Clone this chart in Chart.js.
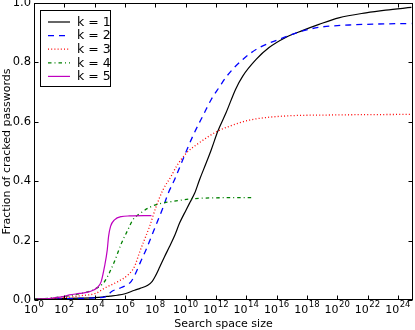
<!DOCTYPE html>
<html><head><meta charset="utf-8">
<script src="https://cdn.jsdelivr.net/npm/chart.js@4"></script>
<style>html,body{margin:0;padding:0;background:#fff;}canvas{display:block;}</style>
</head><body>
<canvas id="c" width="415" height="330"></canvas>
<script>
const seriesLabels = ['k = 1', 'k = 2', 'k = 3', 'k = 4', 'k = 5'];

const k1X = [1e0, 1e1, 1e2, 1e3, 1e4, 3.2e4, 1e5, 3.2e5, 1e6, 4.3e6, 1e7, 3.2e7, 6.3e7, 1e8, 2e8, 4e8, 8.7e8, 2e9, 4e9, 1.1e10, 2e10, 4e10, 8.3e10, 2.3e11, 5e11, 1.35e12, 4.8e12, 2e13, 5.9e13, 4.5e14, 3.2e15, 4e16, 5e17, 6.3e18, 1.26e20, 7.9e21, 1.58e23, 7.9e24];
const k1Y = [0.003, 0.004, 0.005, 0.006, 0.008, 0.010, 0.013, 0.016, 0.021, 0.033, 0.039, 0.05, 0.063, 0.08, 0.112, 0.145, 0.18, 0.22, 0.259, 0.304, 0.33, 0.36, 0.405, 0.462, 0.507, 0.569, 0.632, 0.71, 0.754, 0.81, 0.85, 0.884, 0.907, 0.928, 0.95, 0.967, 0.976, 0.985];

const k2X = [1e0, 1e1, 1e2, 1e3, 1e4, 5.9e4, 1.26e5, 5.75e5, 2.6e6, 5.75e6, 1e7, 2.5e7, 8.9e7, 3.16e8, 7.2e8, 1.86e9, 6.6e9, 3e10, 8.3e10, 1.38e11, 5e11, 1.74e12, 4.9e12, 5.9e13, 7.4e14, 1.58e16, 3.16e17, 6.3e18, 6.3e20, 3.2e22, 7.9e24];
const k2Y = [0.002, 0.003, 0.004, 0.005, 0.007, 0.012, 0.028, 0.042, 0.063, 0.096, 0.125, 0.17, 0.24, 0.31, 0.36, 0.405, 0.473, 0.552, 0.598, 0.62, 0.676, 0.718, 0.752, 0.81, 0.85, 0.878, 0.903, 0.918, 0.926, 0.929, 0.931];

const k3X = [1e0, 1e1, 1e2, 1e3, 1.26e4, 4.5e4, 3.4e5, 1.55e6, 4.3e6, 9.1e6, 4.2e7, 1.15e8, 3.16e8, 1.15e9, 2.5e9, 1.15e10, 8.3e10, 1.35e12, 7.9e12, 1.74e14, 2.5e16, 5e19, 7.9e24];
const k3Y = [0.003, 0.005, 0.008, 0.014, 0.023, 0.04, 0.062, 0.084, 0.113, 0.16, 0.248, 0.315, 0.37, 0.418, 0.45, 0.495, 0.53, 0.569, 0.585, 0.606, 0.619, 0.623, 0.625];

const k4X = [1e0, 1e1, 1e2, 1.58e3, 1.26e4, 4.5e4, 2.04e5, 5.75e5, 1.55e6, 3.3e6, 9.1e6, 4.2e7, 1.9e8, 1.45e9, 3e10, 1e12, 2.14e14];
const k4Y = [0.003, 0.006, 0.012, 0.023, 0.039, 0.062, 0.13, 0.19, 0.236, 0.27, 0.29, 0.312, 0.324, 0.332, 0.341, 0.344, 0.345];

const k5X = [1e0, 1e1, 1e2, 2.2e2, 1e3, 4.6e3, 1.58e4, 2.7e4, 4.5e4, 6.8e4, 8.3e4, 1.12e5, 2.04e5, 5.75e5, 2e6, 5.6e7];
const k5Y = [0.002, 0.005, 0.012, 0.017, 0.022, 0.028, 0.043, 0.062, 0.113, 0.169, 0.214, 0.248, 0.27, 0.281, 0.283, 0.284];

const xTickValues = [1e0, 1e2, 1e4, 1e6, 1e8, 1e10, 1e12, 1e14, 1e16, 1e18, 1e20, 1e22, 1e24];
const xTickBase = '10';
const xTickExponents = ['0', '2', '4', '6', '8', '10', '12', '14', '16', '18', '20', '22', '24'];
const yTickValues = [0, 0.2, 0.4, 0.6, 0.8, 1.0];
const yTickLabels = ['0.0', '0.2', '0.4', '0.6', '0.8', '1.0'];

const xTitle = 'Search space size';
const yTitle = 'Fraction of cracked passwords';

const pts = (xs, ys) => xs.map((v, i) => ({ x: v, y: ys[i] }));

const styles = [
  { color: '#000000', dash: [], width: 1.2 },
  { color: '#0000ff', dash: [6, 5], width: 1.3 },
  { color: '#ff0000', dash: [1, 2.2], width: 1.3 },
  { color: '#008000', dash: [3.5, 3, 1, 3], width: 1.3 },
  { color: '#bf00bf', dash: [], width: 1.2 }
];
const allX = [k1X, k2X, k3X, k4X, k5X];
const allY = [k1Y, k2Y, k3Y, k4Y, k5Y];

const datasets = seriesLabels.map((lab, i) => ({
  label: lab,
  data: pts(allX[i], allY[i]),
  borderColor: styles[i].color,
  backgroundColor: styles[i].color,
  borderDash: styles[i].dash,
  borderWidth: styles[i].width,
  pointRadius: 0,
  fill: false,
  cubicInterpolationMode: 'monotone',
  order: 4 - i
}));

const framePlugin = {
  id: 'frame',
  afterDatasetsDraw(chart) {
    const { ctx, chartArea: a, scales } = chart;
    const xs = scales.x, ys = scales.y;
    const L = Math.round(a.left) + 0.5, R = Math.round(a.right) - 0.5;
    const T = Math.round(a.top) + 0.5, B = Math.round(a.bottom) - 0.5;
    ctx.save();
    ctx.setLineDash([]);
    ctx.strokeStyle = '#000';
    ctx.lineWidth = 1;
    ctx.beginPath();
    xs.ticks.forEach(t => {
      const p = Math.round(xs.getPixelForValue(t.value)) + 0.5;
      ctx.moveTo(p, B); ctx.lineTo(p, B - 4);
      ctx.moveTo(p, T); ctx.lineTo(p, T + 4);
    });
    ys.ticks.forEach(t => {
      const p = Math.round(ys.getPixelForValue(t.value)) + 0.5;
      ctx.moveTo(L, p); ctx.lineTo(L + 4, p);
      ctx.moveTo(R, p); ctx.lineTo(R - 4, p);
    });
    ctx.stroke();
    ctx.strokeRect(L, T, R - L, B - T);

    // x tick labels: base with superscript exponent, placed by the scale
    const baseFont = '11px "DejaVu Sans"', supFont = '8.5px "DejaVu Sans"';
    ctx.fillStyle = '#000';
    ctx.textBaseline = 'alphabetic';
    ctx.textAlign = 'left';
    xs.ticks.forEach((t, i) => {
      const p = xs.getPixelForValue(t.value);
      ctx.font = baseFont;
      const wb = ctx.measureText(xTickBase).width;
      ctx.font = supFont;
      const we = ctx.measureText(xTickExponents[i]).width;
      const x0 = p - (wb + we + 0.5) / 2;
      ctx.font = baseFont;
      ctx.fillText(xTickBase, x0, a.bottom + 13);
      ctx.font = supFont;
      ctx.fillText(xTickExponents[i], x0 + wb + 0.5, a.bottom + 6.5);
    });
    ctx.restore();
  },
  afterDraw(chart) {
    const { ctx, chartArea: a } = chart;
    const bx = Math.round(a.left) + 6.5, by = Math.round(a.top) + 7.5;
    const bw = 70, bh = 76;
    ctx.save();
    ctx.fillStyle = '#fff';
    ctx.fillRect(bx, by, bw, bh);
    ctx.strokeStyle = '#000';
    ctx.lineWidth = 1;
    ctx.setLineDash([]);
    ctx.strokeRect(bx, by, bw, bh);
    ctx.font = '12.5px "DejaVu Sans"';
    ctx.textBaseline = 'middle';
    ctx.textAlign = 'left';
    chart.data.datasets.forEach((ds, i) => {
      const yy = by + 11.5 + i * 13.6;
      ctx.beginPath();
      ctx.strokeStyle = ds.borderColor;
      ctx.lineWidth = ds.borderWidth;
      ctx.setLineDash(ds.borderDash);
      ctx.moveTo(bx + 7.5, yy);
      ctx.lineTo(bx + 29.5, yy);
      ctx.stroke();
      ctx.setLineDash([]);
      ctx.fillStyle = '#000';
      ctx.fillText(ds.label, bx + 36.5, yy + 0.5);
    });
    ctx.restore();
  }
};

Chart.defaults.font.family = '"DejaVu Sans", sans-serif';
Chart.defaults.color = '#000';

new Chart(document.getElementById('c'), {
  type: 'line',
  data: { datasets },
  options: {
    responsive: false,
    animation: false,
    devicePixelRatio: 1,
    layout: { padding: { top: 3, right: 2, left: 0, bottom: 0 } },
    plugins: { legend: { display: false }, tooltip: { enabled: false } },
    scales: {
      x: {
        type: 'logarithmic',
        min: 1, max: 1e25,
        afterBuildTicks: s => { s.ticks = xTickValues.map(v => ({ value: v })); },
        afterFit: s => { s.height = 30; s.paddingLeft = 0; s.paddingRight = 0; },
        grid: { display: false, drawTicks: false, tickLength: 0 },
        border: { display: false },
        ticks: { display: false, autoSkip: false, maxRotation: 0 },
        title: { display: true, text: xTitle, font: { size: 11 }, padding: { top: 0, bottom: -1 } }
      },
      y: {
        min: 0, max: 1,
        afterBuildTicks: s => { s.ticks = yTickValues.map(v => ({ value: v })); },
        afterFit: s => { s.width = 34; s.paddingTop = 0; s.paddingBottom = 0; },
        grid: { display: false, drawTicks: false, tickLength: 0 },
        border: { display: false },
        ticks: {
          padding: 3,
          font: { size: 11.5 },
          callback: (v, i) => yTickLabels[i]
        },
        title: { display: true, text: yTitle, font: { size: 11 }, padding: { top: 1, bottom: 0 } }
      }
    }
  },
  plugins: [framePlugin]
});
</script>
</body></html>
